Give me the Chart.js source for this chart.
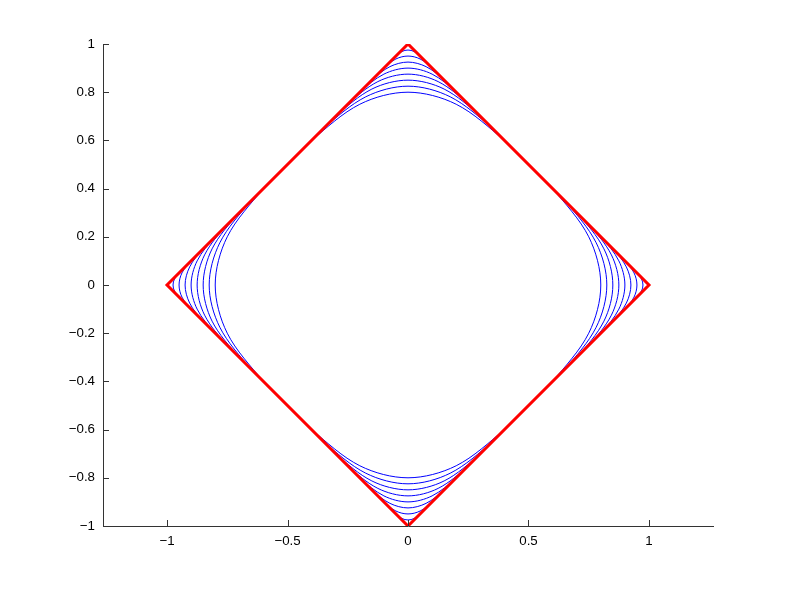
<!DOCTYPE html>
<html>
<head>
<meta charset="utf-8">
<script src="https://cdn.jsdelivr.net/npm/chart.js@4/dist/chart.umd.min.js"></script>
<style>
html,body{margin:0;padding:0;background:#fff;}
#wrap{width:789px;height:592px;}
</style>
</head>
<body>
<div id="wrap"><canvas id="c" width="789" height="592"></canvas></div>
<script>
// Tick labels
const xTickValues = [-1, -0.5, 0, 0.5, 1];
const yTickValues = [-1, -0.8, -0.6, -0.4, -0.2, 0, 0.2, 0.4, 0.6, 0.8, 1];

// Red diamond
const diamond = [[0,1],[1,0],[0,-1],[-1,0],[0,1]];

// Blue rounded contours, outermost-inner to innermost
const curve1 = [[-0.5,0.5],[-0.4,0.6],[-0.2,0.75],[0,0.8],[0.2,0.75],[0.4,0.6],[0.5,0.5],[0.6,0.4],[0.75,0.2],[0.8,0],[0.75,-0.2],[0.6,-0.4],[0.5,-0.5],[0.4,-0.6],[0.2,-0.75],[0,-0.8],[-0.2,-0.75],[-0.4,-0.6],[-0.5,-0.5],[-0.6,-0.4],[-0.75,-0.2],[-0.8,0],[-0.75,0.2],[-0.6,0.4],[-0.5,0.5]];
const curve2 = [[-0.5,0.5],[-0.35,0.65],[-0.175,0.781],[0,0.825],[0.175,0.781],[0.35,0.65],[0.5,0.5],[0.65,0.35],[0.781,0.175],[0.825,0],[0.781,-0.175],[0.65,-0.35],[0.5,-0.5],[0.35,-0.65],[0.175,-0.781],[0,-0.825],[-0.175,-0.781],[-0.35,-0.65],[-0.5,-0.5],[-0.65,-0.35],[-0.781,-0.175],[-0.825,0],[-0.781,0.175],[-0.65,0.35],[-0.5,0.5]];
const curve3 = [[-0.5,0.5],[-0.3,0.7],[-0.15,0.813],[0,0.85],[0.15,0.813],[0.3,0.7],[0.5,0.5],[0.7,0.3],[0.813,0.15],[0.85,0],[0.813,-0.15],[0.7,-0.3],[0.5,-0.5],[0.3,-0.7],[0.15,-0.813],[0,-0.85],[-0.15,-0.813],[-0.3,-0.7],[-0.5,-0.5],[-0.7,-0.3],[-0.813,-0.15],[-0.85,0],[-0.813,0.15],[-0.7,0.3],[-0.5,0.5]];
const curve4 = [[-0.5,0.5],[-0.25,0.75],[-0.125,0.844],[0,0.875],[0.125,0.844],[0.25,0.75],[0.5,0.5],[0.75,0.25],[0.844,0.125],[0.875,0],[0.844,-0.125],[0.75,-0.25],[0.5,-0.5],[0.25,-0.75],[0.125,-0.844],[0,-0.875],[-0.125,-0.844],[-0.25,-0.75],[-0.5,-0.5],[-0.75,-0.25],[-0.844,-0.125],[-0.875,0],[-0.844,0.125],[-0.75,0.25],[-0.5,0.5]];
const curve5 = [[-0.5,0.5],[-0.2,0.8],[-0.1,0.875],[0,0.9],[0.1,0.875],[0.2,0.8],[0.5,0.5],[0.8,0.2],[0.875,0.1],[0.9,0],[0.875,-0.1],[0.8,-0.2],[0.5,-0.5],[0.2,-0.8],[0.1,-0.875],[0,-0.9],[-0.1,-0.875],[-0.2,-0.8],[-0.5,-0.5],[-0.8,-0.2],[-0.875,-0.1],[-0.9,0],[-0.875,0.1],[-0.8,0.2],[-0.5,0.5]];
const curve6 = [[-0.5,0.5],[-0.15,0.85],[-0.075,0.906],[0,0.925],[0.075,0.906],[0.15,0.85],[0.5,0.5],[0.85,0.15],[0.906,0.075],[0.925,0],[0.906,-0.075],[0.85,-0.15],[0.5,-0.5],[0.15,-0.85],[0.075,-0.906],[0,-0.925],[-0.075,-0.906],[-0.15,-0.85],[-0.5,-0.5],[-0.85,-0.15],[-0.906,-0.075],[-0.925,0],[-0.906,0.075],[-0.85,0.15],[-0.5,0.5]];
const curve7 = [[-0.5,0.5],[-0.1,0.9],[-0.05,0.938],[0,0.95],[0.05,0.938],[0.1,0.9],[0.5,0.5],[0.9,0.1],[0.938,0.05],[0.95,0],[0.938,-0.05],[0.9,-0.1],[0.5,-0.5],[0.1,-0.9],[0.05,-0.938],[0,-0.95],[-0.05,-0.938],[-0.1,-0.9],[-0.5,-0.5],[-0.9,-0.1],[-0.938,-0.05],[-0.95,0],[-0.938,0.05],[-0.9,0.1],[-0.5,0.5]];
const curve8 = [[-0.5,0.5],[-0.05,0.95],[-0.025,0.969],[0,0.975],[0.025,0.969],[0.05,0.95],[0.5,0.5],[0.95,0.05],[0.969,0.025],[0.975,0],[0.969,-0.025],[0.95,-0.05],[0.5,-0.5],[0.05,-0.95],[0.025,-0.969],[0,-0.975],[-0.025,-0.969],[-0.05,-0.95],[-0.5,-0.5],[-0.95,-0.05],[-0.969,-0.025],[-0.975,0],[-0.969,0.025],[-0.95,0.05],[-0.5,0.5]];

const blueCurves = [curve1, curve2, curve3, curve4, curve5, curve6, curve7, curve8];

const toPts = arr => arr.map(p => ({x: p[0], y: p[1]}));
const fmt = v => {
  const r = Math.round(v * 10) / 10;
  return (r < 0 ? '\u2212' : '') + String(Math.abs(r));
};

const datasets = [{
  data: toPts(diamond),
  borderColor: '#ff0000',
  borderWidth: 3,
  pointRadius: 0,
  showLine: true,
  tension: 0,
  order: 0,
  borderJoinStyle: 'miter'
}];
blueCurves.forEach(c => datasets.push({
  data: toPts(c),
  borderColor: '#0000ff',
  borderWidth: 1,
  pointRadius: 0,
  showLine: true,
  tension: 0.33,
  order: 1
}));

const inwardTicks = {
  id: 'inwardTicks',
  afterDatasetsDraw(chart) {
    const {ctx, chartArea, scales} = chart;
    ctx.save();
    ctx.strokeStyle = '#333';
    ctx.lineWidth = 1;
    ctx.beginPath();
    yTickValues.forEach(v => {
      const y = Math.round(scales.y.getPixelForValue(v)) + 0.5;
      ctx.moveTo(chartArea.left, y);
      ctx.lineTo(chartArea.left + 6, y);
    });
    xTickValues.forEach(v => {
      const x = Math.round(scales.x.getPixelForValue(v)) + 0.5;
      ctx.moveTo(x, chartArea.bottom);
      ctx.lineTo(x, chartArea.bottom - 6);
    });
    ctx.stroke();
    ctx.restore();
  }
};

const font = {family: '"Liberation Sans", Arial, Helvetica, sans-serif', size: 13.3};

new Chart(document.getElementById('c'), {
  type: 'scatter',
  data: {datasets},
  options: {
    responsive: false,
    animation: false,
    layout: {padding: {top: 44, right: 76, left: 0, bottom: 0}},
    plugins: {legend: {display: false}, tooltip: {enabled: false}},
    scales: {
      x: {
        type: 'linear',
        min: -1.2656, max: 1.2656,
        afterBuildTicks: s => { s.ticks = xTickValues.map(v => ({value: v})); },
        afterFit: s => { s.height = 66; },
        grid: {display: true, drawOnChartArea: false, drawTicks: false},
        border: {display: true, color: '#333', width: 1},
        ticks: {color: '#000', font, padding: 7, maxRotation: 0, autoSkip: false, callback: v => fmt(v)}
      },
      y: {
        type: 'linear',
        min: -1, max: 1,
        afterBuildTicks: s => { s.ticks = yTickValues.map(v => ({value: v})); },
        afterFit: s => { s.width = 103; },
        grid: {display: true, drawOnChartArea: false, drawTicks: false},
        border: {display: true, color: '#333', width: 1},
        ticks: {color: '#000', font, padding: 8, autoSkip: false, callback: v => fmt(v)}
      }
    }
  },
  plugins: [inwardTicks]
});
</script>
</body>
</html>
